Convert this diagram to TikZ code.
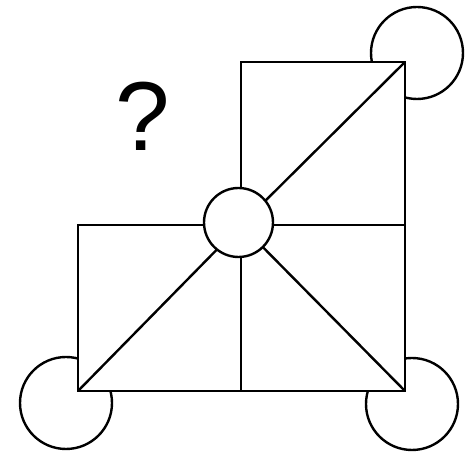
\documentclass[tikz,border=0pt]{standalone}
\usepackage{fontspec}
\setsansfont{Liberation Sans}
\usepackage{tikz}
\usetikzlibrary{positioning}

\begin{document}
\begin{tikzpicture}[
  x=1pt, y=1pt,
  wall/.style={draw=black, line width=2.4pt},
  blob/.style={circle, draw=black, line width=2.4pt, inner sep=0pt, minimum size=92pt},
  hub/.style={circle, draw=black, fill=white, line width=2.4pt, inner sep=0pt, minimum size=69pt},
  askmark/.style={font=\fontsize{98}{98}\selectfont\sffamily},
]
\useasboundingbox (0,0) rectangle (467,457);

% Corners of the frame
\coordinate (tl) at (241,395);
\coordinate (tr) at (405,395);
\coordinate (ml) at (78,232);
\coordinate (mm) at (241,232);
\coordinate (mr) at (405,232);
\coordinate (bl) at (78,66);
\coordinate (bm) at (241,66);
\coordinate (br) at (405,66);

% Corner circles
\node[blob] (cTR) at (417,404) {};
\node[blob] (cBL) at (66,54) {};
\node[blob] (cBR) at (412,53) {};

% Frame
\draw[wall, fill=white] (ml) -- (mm) -- (tl) -- (tr) -- (br) -- (bl) -- cycle;
\draw[wall] (mm) -- (mr);
\draw[wall] (mm) -- (bm);
\draw[wall] (mm) -- (tr);
\draw[wall] (mm) -- (bl);
\draw[wall] (mm) -- (br);

% Centre circle
\node[hub] (hub) at (238.5,234.5) {};

% Question
\node[askmark] (ask) at (143,341) {?};
\end{tikzpicture}
\end{document}
